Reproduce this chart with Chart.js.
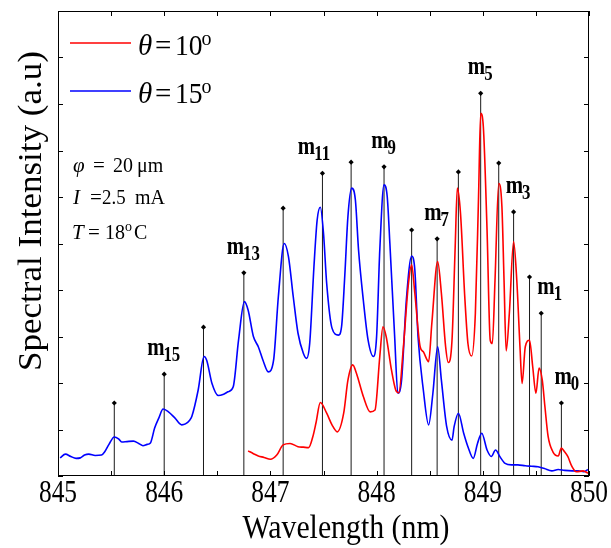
<!DOCTYPE html>
<html lang="en">

<head>
    <meta charset="UTF-8">
    <title>Spectral Intensity</title>
    <style>
        body {
            margin: 0;
            background: #ffffff;
        }

        #spectrumChart {
            display: block;
        }
    </style>
</head>

<body>
    <canvas id="spectrumChart" width="611" height="548"></canvas>

    <script src="https://cdn.jsdelivr.net/npm/chart.js"></script>
    <script>
        // theta = 15 deg spectrum (blue)
        const blueWavelength = [845.02, 845.07, 845.12, 845.17, 845.21, 845.25, 845.29, 845.35, 845.41, 845.44,
            845.48, 845.53, 845.57, 845.60, 845.65, 845.71, 845.76, 845.80, 845.84, 845.87,
            845.91, 845.95, 845.99, 846.04, 846.10, 846.165, 846.20, 846.24, 846.26, 846.32,
            846.375, 846.40, 846.45, 846.51, 846.56, 846.60, 846.65, 846.70, 846.755, 846.79,
            846.84, 846.886, 846.93, 846.98, 847.03, 847.075, 847.13, 847.17, 847.215, 847.26,
            847.31, 847.34, 847.37, 847.41, 847.44, 847.47, 847.50, 847.53, 847.58, 847.64,
            847.67, 847.70, 847.73, 847.765, 847.80, 847.83, 847.875, 847.92, 847.97, 848.00,
            848.03, 848.07, 848.10, 848.125, 848.17, 848.20, 848.235, 848.28, 848.33, 848.36,
            848.39, 848.44, 848.49, 848.53, 848.575, 848.61, 848.66, 848.71, 848.73, 848.77,
            848.82, 848.86, 848.91, 848.95, 848.99, 849.04, 849.08, 849.12, 849.16, 849.21,
            849.27, 849.33, 849.40, 849.46, 849.52, 849.58, 849.65, 849.71, 849.77, 849.84,
            849.90, 849.95, 849.99];
        const blueIntensity = [0.39, 0.47, 0.42, 0.38, 0.39, 0.45, 0.47, 0.44, 0.45, 0.52,
            0.68, 0.84, 0.80, 0.73, 0.74, 0.75, 0.70, 0.65, 0.68, 0.71,
            1.03, 1.25, 1.44, 1.38, 1.25, 1.10, 1.12, 1.20, 1.28, 1.85,
            2.57, 2.49, 1.99, 1.73, 1.76, 1.81, 1.92, 2.92, 3.75, 3.57,
            3.00, 2.78, 2.49, 2.24, 2.49, 3.86, 5.00, 4.72, 3.86, 3.07,
            2.64, 2.53, 2.85, 4.50, 5.50, 5.78, 5.22, 4.14, 3.18, 3.03,
            3.21, 4.29, 5.58, 6.19, 5.94, 4.86, 3.78, 2.92, 2.57, 3.00,
            4.86, 6.26, 6.01, 5.00, 3.00, 1.78, 2.06, 3.78, 4.73, 4.43,
            3.00, 1.85, 1.10, 1.78, 2.78, 2.06, 1.06, 0.77, 1.06, 1.35,
            0.92, 0.63, 0.38, 0.70, 0.92, 0.56, 0.42, 0.56, 0.42, 0.27,
            0.24, 0.24, 0.22, 0.21, 0.20, 0.16, 0.11, 0.14, 0.12, 0.11,
            0.11, 0.09, 0.14];

        // theta = 10 deg spectrum (red)
        const redWavelength = [846.79, 846.84, 846.886, 846.94, 847.00, 847.06, 847.12, 847.185, 847.26, 847.31,
            847.36, 847.40, 847.43, 847.47, 847.53, 847.58, 847.63, 847.69, 847.73, 847.775,
            847.81, 847.875, 847.94, 847.985, 848.03, 848.06, 848.09, 848.14, 848.18, 848.21,
            848.25, 848.30, 848.33, 848.36, 848.41, 848.44, 848.49, 848.52, 848.575, 848.61,
            848.65, 848.675, 848.71, 848.74, 848.76, 848.79, 848.83, 848.86, 848.895, 848.93,
            848.96, 848.98, 849.005, 849.04, 849.07, 849.09, 849.115, 849.15, 849.18, 849.20,
            849.22, 849.25, 849.29, 849.32, 849.35, 849.37, 849.40, 849.44, 849.47, 849.50,
            849.53, 849.56, 849.585, 849.615, 849.66, 849.71, 849.74, 849.77, 849.80, 849.84,
            849.88, 849.945, 849.99];
        const redIntensity = [0.54, 0.48, 0.43, 0.40, 0.36, 0.45, 0.67, 0.70, 0.63, 0.62,
            0.61, 0.85, 1.15, 1.58, 1.35, 1.10, 0.95, 1.35, 2.06, 2.39,
            2.21, 1.71, 1.38, 1.42, 2.57, 3.21, 3.00, 2.28, 1.85, 1.79,
            2.71, 4.14, 4.54, 3.93, 2.78, 2.67, 2.46, 3.28, 4.61, 3.93,
            2.78, 2.44, 2.92, 4.93, 6.19, 5.65, 3.86, 2.85, 2.58, 3.50,
            6.01, 7.80, 7.51, 5.29, 2.92, 2.85, 4.21, 6.29, 5.79, 4.21,
            2.69, 3.50, 5.04, 4.21, 2.78, 1.99, 2.78, 2.92, 2.35, 1.78,
            2.32, 2.06, 1.49, 0.85, 0.52, 0.43, 0.60, 0.52, 0.42, 0.20,
            0.09, 0.11, 0.06];

        // longitudinal mode positions (nm), marker heights and mode numbers
        const modeWavelength = [845.53, 846.00, 846.37, 846.75, 847.12, 847.49, 847.76, 848.07, 848.33,
            848.57, 848.77, 848.98, 849.15, 849.29, 849.44, 849.55, 849.74];
        const modeTop = [1.57, 2.19, 3.20, 4.37, 5.76, 6.51, 6.75, 6.65, 5.29,
            5.10, 6.54, 8.23, 6.73, 5.68, 4.28, 3.50, 1.57];
        const modeNumber = [16, 15, 14, 13, 12, 11, 10, 9, 8, 7, 6, 5, 4, 3, 2, 1, 0];
        const labelledModes = [0, 1, 3, 5, 7, 9, 11, 13, 15];

        const serif = '"Liberation Serif", "Times New Roman", serif';

        // draw text squeezed horizontally, returns drawn width
        function drawText(ctx, text, x, y, font, sx, align) {
            ctx.save();
            ctx.font = font;
            const w = ctx.measureText(text).width * sx;
            let x0 = x;
            if (align === 'center') x0 = x - w / 2;
            if (align === 'right') x0 = x - w;
            ctx.textAlign = 'left';
            ctx.translate(x0, y);
            ctx.scale(sx, 1);
            ctx.fillText(text, 0, 0);
            ctx.restore();
            return w;
        }

        // box, inward ticks, tick labels and axis titles
        const framePlugin = {
            id: 'framePlugin',
            afterDraw(chart) {
                const { ctx, chartArea: a, scales: { x, y } } = chart;
                ctx.save();
                ctx.strokeStyle = '#000';
                ctx.fillStyle = '#000';
                ctx.lineWidth = 1;
                ctx.strokeRect(a.left + 0.5, a.top + 0.5, a.right - a.left - 1, a.bottom - a.top - 1);

                ctx.beginPath();
                x.ticks.forEach(t => {
                    const px = Math.round(x.getPixelForValue(t.value)) + 0.5;
                    ctx.moveTo(px, a.bottom);
                    ctx.lineTo(px, a.bottom - 5);
                    ctx.moveTo(px, a.top);
                    ctx.lineTo(px, a.top + 5);
                });
                y.ticks.forEach(t => {
                    const py = Math.round(y.getPixelForValue(t.value)) + 0.5;
                    ctx.moveTo(a.left, py);
                    ctx.lineTo(a.left + 5, py);
                    ctx.moveTo(a.right, py);
                    ctx.lineTo(a.right - 5, py);
                });
                ctx.stroke();

                ctx.textBaseline = 'alphabetic';
                x.ticks.forEach(t => {
                    if (Number.isInteger(t.value)) {
                        drawText(ctx, String(t.value), x.getPixelForValue(t.value), 502, '31px ' + serif, 0.82, 'center');
                    }
                });

                // x title
                ctx.font = '33px ' + serif;
                const xt = 'Wavelength (nm)';
                drawText(ctx, xt, 346, 538, '33px ' + serif, 207 / ctx.measureText(xt).width, 'center');

                // y title
                const yt = 'Spectral Intensity (a.u)';
                ctx.font = '34px ' + serif;
                const ys = 320 / ctx.measureText(yt).width;
                ctx.save();
                ctx.translate(41, 211);
                ctx.rotate(-Math.PI / 2);
                drawText(ctx, yt, 0, 0, '34px ' + serif, ys, 'center');
                ctx.restore();

                ctx.restore();
            }
        };

        // mode labels m_n above the markers
        const modeLabelPlugin = {
            id: 'modeLabelPlugin',
            afterDatasetsDraw(chart) {
                const { ctx, scales: { x, y } } = chart;
                const shift = { 0: 6, 1: 9, 3: 5, 11: -8 };
                ctx.save();
                ctx.fillStyle = '#000';
                modeNumber.forEach((n, i) => {
                    if (!labelledModes.includes(n)) return;
                    const px = x.getPixelForValue(modeWavelength[i]) + (shift[n] || 0);
                    const py = y.getPixelForValue(modeTop[i]) - 19;
                    ctx.font = 'bold 26px ' + serif;
                    const wm = ctx.measureText('m').width * 0.8;
                    ctx.font = 'bold 21px ' + serif;
                    const wd = ctx.measureText(String(n)).width * 0.8;
                    const x0 = px - (wm + wd) / 2;
                    drawText(ctx, 'm', x0, py, 'bold 26px ' + serif, 0.8, 'left');
                    drawText(ctx, String(n), x0 + wm - 1, py + 6, 'bold 21px ' + serif, 0.8, 'left');
                });
                ctx.restore();
            }
        };

        // legend and operating conditions inside the plot
        const notesPlugin = {
            id: 'notesPlugin',
            afterDraw(chart) {
                const ctx = chart.ctx;
                ctx.save();
                ctx.lineWidth = 1.5;
                [['#ff0000', 43, '10'], ['#0000ff', 91, '15']].forEach(([color, ly, ang]) => {
                    ctx.strokeStyle = color;
                    ctx.beginPath();
                    ctx.moveTo(70, ly);
                    ctx.lineTo(131, ly);
                    ctx.stroke();
                    const by = ly + 12;
                    ctx.fillStyle = '#000';
                    drawText(ctx, '\u03b8', 138, by, 'italic 29px ' + serif, 1, 'left');
                    drawText(ctx, '=', 155, by, '29px ' + serif, 1, 'left');
                    const w = drawText(ctx, ang, 175, by, '29px ' + serif, 0.95, 'left');
                    drawText(ctx, 'o', 175 + w - 1, by - 10, '20px ' + serif, 1, 'left');
                });

                ctx.fillStyle = '#000';
                const f = '21px ' + serif;
                const fi = 'italic 21px ' + serif;
                drawText(ctx, '\u03c6', 73, 172, fi, 1, 'left');
                drawText(ctx, '=', 93, 172, f, 1, 'left');
                drawText(ctx, '20', 113, 172, f, 0.95, 'left');
                drawText(ctx, '\u03bcm', 137, 172, f, 0.95, 'left');

                drawText(ctx, 'I', 73, 204, fi, 1, 'left');
                drawText(ctx, '=', 90, 204, f, 1, 'left');
                drawText(ctx, '2.5', 102, 204, f, 0.9, 'left');
                drawText(ctx, 'mA', 135, 204, f, 0.95, 'left');

                drawText(ctx, 'T', 72, 239, fi, 1, 'left');
                drawText(ctx, '=', 88, 239, f, 1, 'left');
                drawText(ctx, '18', 105, 239, f, 0.95, 'left');
                drawText(ctx, 'o', 125, 231, '14px ' + serif, 1, 'left');
                drawText(ctx, 'C', 134, 239, f, 0.95, 'left');
                ctx.restore();
            }
        };

        document.addEventListener('DOMContentLoaded', function () {
            const toPoints = (xs, ys) => xs.map((v, i) => ({ x: v, y: ys[i] }));

            const modeSets = modeWavelength.map((w, i) => ({
                data: [{ x: w, y: 0 }, { x: w, y: modeTop[i] }],
                showLine: true,
                borderColor: '#1a1a1a',
                borderWidth: 1,
                pointRadius: [0, 2.6],
                pointStyle: 'rectRot',
                pointBackgroundColor: '#000',
                pointBorderWidth: 0,
                order: 3
            }));

            new Chart(document.getElementById('spectrumChart'), {
                type: 'scatter',
                data: {
                    datasets: [
                        {
                            label: '\u03b8 = 10\u00b0',
                            data: toPoints(redWavelength, redIntensity),
                            showLine: true,
                            borderColor: '#ff0000',
                            borderWidth: 1.6,
                            pointRadius: 0,
                            cubicInterpolationMode: 'monotone',
                            order: 1
                        },
                        {
                            label: '\u03b8 = 15\u00b0',
                            data: toPoints(blueWavelength, blueIntensity),
                            showLine: true,
                            borderColor: '#0000ff',
                            borderWidth: 1.6,
                            pointRadius: 0,
                            cubicInterpolationMode: 'monotone',
                            order: 2
                        },
                        ...modeSets
                    ]
                },
                options: {
                    responsive: false,
                    animation: false,
                    devicePixelRatio: 1,
                    layout: { padding: { left: 0, right: 22, top: 11, bottom: 0 } },
                    plugins: {
                        legend: { display: false },
                        tooltip: { enabled: false }
                    },
                    scales: {
                        x: {
                            type: 'linear',
                            min: 845,
                            max: 850,
                            ticks: { stepSize: 0.5, display: false },
                            grid: { display: false },
                            border: { display: false },
                            afterFit: s => { s.height = 72; }
                        },
                        y: {
                            min: 0,
                            max: 10,
                            ticks: { stepSize: 1, display: false },
                            grid: { display: false },
                            border: { display: false },
                            afterFit: s => { s.width = 58; }
                        }
                    }
                },
                plugins: [framePlugin, modeLabelPlugin, notesPlugin]
            });
        });
    </script>
</body>

</html>
